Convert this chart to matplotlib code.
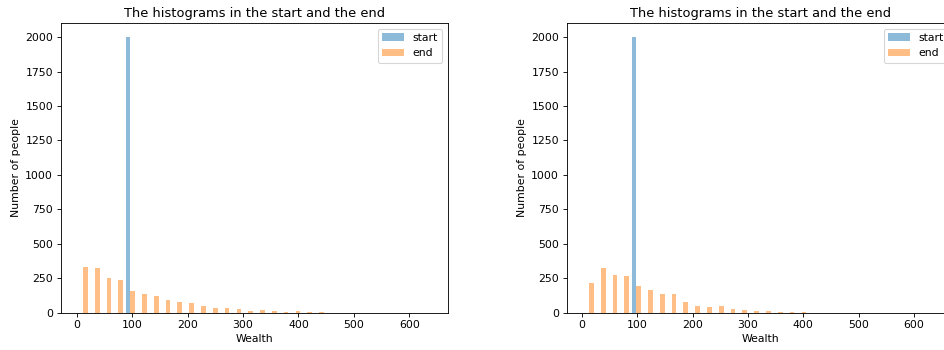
import numpy as np
import matplotlib
matplotlib.use("Agg")
import matplotlib.pyplot as plt

# Wealth histograms of 2000 people at the start and end of two simulation runs.
n_bins = 30

# Run 1: bin range and per-bin counts
run1_range = (0.0, 640.0)
run1_start = [0, 0, 0, 0, 2000, 0, 0, 0, 0, 0,
              0, 0, 0, 0, 0, 0, 0, 0, 0, 0,
              0, 0, 0, 0, 0, 0, 0, 0, 0, 0]
run1_end = [330, 320, 250, 235, 155, 138, 118, 92, 75, 68,
            46, 30, 34, 25, 10, 17, 10, 7, 10, 7,
            5, 0, 0, 0, 0, 0, 0, 0, 0, 0]

# Run 2: bin range and per-bin counts
run2_range = (2.0, 642.0)
run2_start = [0, 0, 0, 0, 2000, 0, 0, 0, 0, 0,
              0, 0, 0, 0, 0, 0, 0, 0, 0, 0,
              0, 0, 0, 0, 0, 0, 0, 0, 0, 0]
run2_end = [211, 324, 271, 262, 191, 164, 131, 131, 73, 46,
            39, 46, 22, 17, 10, 10, 7, 5, 5, 0,
            0, 0, 0, 0, 0, 0, 0, 0, 0, 0]

series_labels = ["start", "end"]

DPI = 78
fig = plt.figure(figsize=(944 / DPI, 350 / DPI), dpi=DPI)
ax_left = fig.add_axes([0.0643, 0.1071, 0.41, 0.8263])
ax_right = fig.add_axes([0.6003, 0.1071, 0.41, 0.8263])


def draw_run(ax, rng, start_counts, end_counts):
    edges = np.linspace(rng[0], rng[1], n_bins + 1)
    centers = 0.5 * (edges[:-1] + edges[1:])
    ax.hist([centers, centers], bins=edges,
            weights=[start_counts, end_counts],
            alpha=0.5, label=series_labels)
    ax.set_title("The histograms in the start and the end")
    ax.set_xlabel("Wealth")
    ax.set_ylabel("Number of people")
    ax.legend(loc="upper right")


draw_run(ax_left, run1_range, run1_start, run1_end)
draw_run(ax_right, run2_range, run2_start, run2_end)

fig.savefig("out.png", dpi=DPI)
